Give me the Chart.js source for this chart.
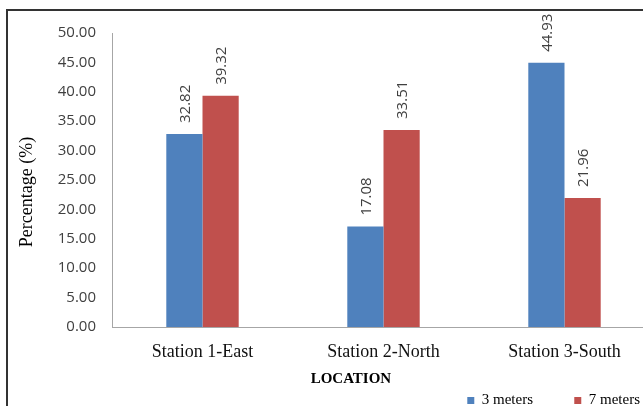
<!DOCTYPE html>
<html>
<head>
<meta charset="utf-8">
<title>Percentage by location and depth</title>
<script src="https://cdn.jsdelivr.net/npm/chart.js@4/dist/chart.umd.min.js"></script>
<style>
  html, body { margin: 0; padding: 0; overflow: hidden; background: #fff; width: 643px; height: 406px; }
  .frame { position: absolute; left: 6px; top: 9px; width: 700px; height: 500px; border-left: 2px solid #333; border-top: 2px solid #333; }
  #chart { position: absolute; left: 0; top: 0; }
</style>
</head>
<body>
<div class="frame"></div>
<canvas id="chart" width="655" height="418"></canvas>
<script>
// Stations sampled and the share measured at each depth
const categories = ['Station 1-East', 'Station 2-North', 'Station 3-South'];
const seriesNames = ['3 meters', '7 meters'];
const meters3 = [32.82, 17.08, 44.93];
const meters7 = [39.32, 33.51, 21.96];
const yMin = 0, yMax = 50, yStep = 5;

const BLUE = '#4F81BD';
const RED = '#C0504D';
const SANS = '"Open Sans", "Liberation Sans", sans-serif';
const SERIF = '"Liberation Serif", "Times New Roman", serif';

// Rotated value labels above each bar
const valueLabels = {
  id: 'valueLabels',
  afterDatasetsDraw(chart) {
    const { ctx } = chart;
    ctx.save();
    ctx.font = '15px ' + SANS;
    ctx.fillStyle = '#404040';
    ctx.textAlign = 'left';
    ctx.textBaseline = 'middle';
    chart.data.datasets.forEach((ds, i) => {
      chart.getDatasetMeta(i).data.forEach((bar, j) => {
        ctx.save();
        ctx.translate(bar.x + 1, bar.y - 11);
        ctx.rotate(-Math.PI / 2);
        ctx.fillText(ds.data[j].toFixed(2), 0, 0);
        ctx.restore();
      });
    });
    ctx.restore();
  }
};

// Axis titles
const axisTitles = {
  id: 'axisTitles',
  afterDraw(chart) {
    const { ctx, chartArea: a, scales: { x } } = chart;
    ctx.save();
    ctx.fillStyle = '#000';
    ctx.textAlign = 'center';
    ctx.textBaseline = 'middle';
    ctx.font = 'bold 15px ' + SERIF;
    ctx.fillText('LOCATION', a.left + (a.right - a.left) * 0.44, x.bottom + 1);
    ctx.translate(a.left - 85, (a.top + a.bottom) / 2 + 12);
    ctx.rotate(-Math.PI / 2);
    ctx.font = '18px ' + SERIF;
    ctx.fillText('Percentage (%)', 0, 0);
    ctx.restore();
  }
};

new Chart(document.getElementById('chart'), {
  type: 'bar',
  data: {
    labels: categories,
    datasets: [
      { label: seriesNames[0], data: meters3, backgroundColor: BLUE, borderWidth: 0 },
      { label: seriesNames[1], data: meters7, backgroundColor: RED, borderWidth: 0 }
    ]
  },
  options: {
    responsive: false,
    animation: false,
    devicePixelRatio: 1,
    categoryPercentage: 0.4,
    barPercentage: 1,
    layout: { padding: { top: 33, left: 0, right: 0, bottom: 0 } },
    plugins: {
      tooltip: { enabled: false },
      legend: {
        position: 'bottom',
        align: 'end',
        labels: {
          boxWidth: 7,
          boxHeight: 7,
          padding: 15,
          color: '#000',
          font: { family: SERIF, size: 15 },
          generateLabels(chart) {
            const items = Chart.defaults.plugins.legend.labels.generateLabels(chart);
            items.forEach((it, i) => {
              if (i < items.length - 1) it.text = it.text + '       ';
            });
            return items;
          }
        }
      }
    },
    scales: {
      x: {
        grid: { display: false, drawTicks: false },
        border: { display: true, color: '#A6A6A6', width: 1 },
        ticks: { color: '#111', padding: 14, font: { family: SERIF, size: 18 }, maxRotation: 0 },
        afterFit(scale) { scale.height = 51; }
      },
      y: {
        min: yMin,
        max: yMax,
        grid: { display: false, drawTicks: false },
        border: { display: true, color: '#A6A6A6', width: 1 },
        ticks: {
          stepSize: yStep,
          padding: 16,
          color: '#404040',
          font: { family: SANS, size: 15 },
          callback: (v) => Number(v).toFixed(2)
        },
        afterFit(scale) { scale.width = 112; }
      }
    }
  },
  plugins: [valueLabels, axisTitles]
});
</script>
</body>
</html>
